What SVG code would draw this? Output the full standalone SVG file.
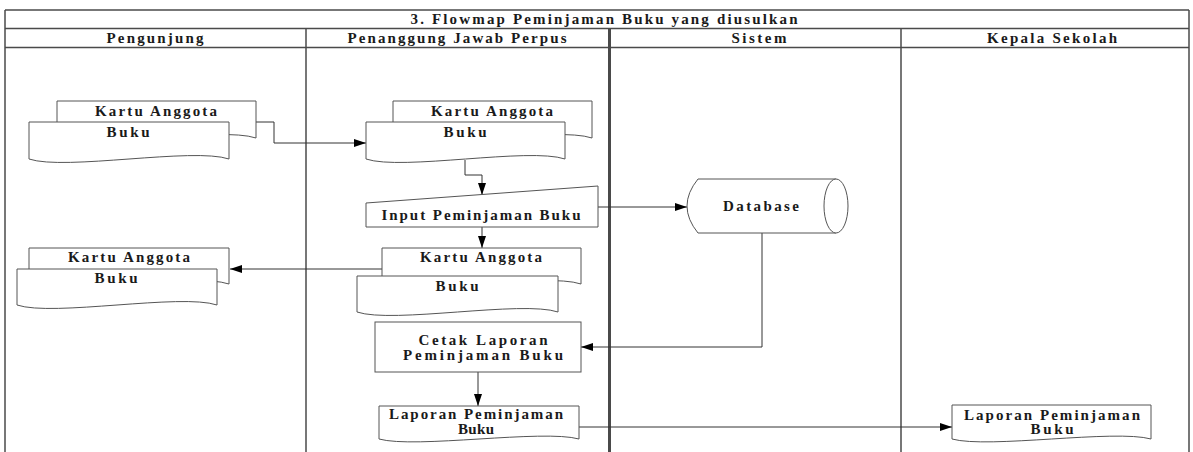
<svg xmlns="http://www.w3.org/2000/svg" width="1193" height="452" viewBox="0 0 1193 452">
<defs>
<style>
.frame{fill:none;stroke:#4a4a4a;stroke-width:1.5}
.thick{fill:none;stroke:#4a4a4a;stroke-width:3}
.shape{fill:#fff;stroke:#555;stroke-width:1}
.conn{fill:none;stroke:#333;stroke-width:1}
text{font-family:"Liberation Serif","Times New Roman",serif;font-size:15px;font-weight:bold;fill:#1a1a1a;text-anchor:middle}
.hdr{font-size:15px}
</style>
<marker id="arr" viewBox="0 0 12 8" refX="12" refY="4" markerWidth="12" markerHeight="8" markerUnits="userSpaceOnUse" orient="auto">
<path d="M0,0 L12,4 L0,8 Z" fill="#000"/>
</marker>
</defs>
<rect width="1193" height="452" fill="#fff"/>
<g id="frame">
<line class="frame" x1="5" y1="10" x2="1189" y2="10"/>
<line class="frame" x1="5" y1="28.5" x2="1189" y2="28.5"/>
<line class="frame" x1="5" y1="47.5" x2="1189" y2="47.5"/>
<line class="frame" x1="5" y1="10" x2="5" y2="452"/>
<line class="frame" x1="1189" y1="10" x2="1189" y2="452"/>
<line class="frame" x1="306" y1="28.5" x2="306" y2="452"/>
<line class="thick" x1="609.5" y1="28.5" x2="609.5" y2="452"/>
<line class="frame" x1="901" y1="28.5" x2="901" y2="452"/>
<text x="604" y="24" textLength="387" lengthAdjust="spacing" class="hdr">3. Flowmap Peminjaman Buku yang diusulkan</text>
<text x="155" y="43" textLength="97" lengthAdjust="spacing" class="hdr">Pengunjung</text>
<text x="457" y="43" textLength="219" lengthAdjust="spacing" class="hdr">Penanggung Jawab Perpus</text>
<text x="759" y="43" textLength="55" lengthAdjust="spacing" class="hdr">Sistem</text>
<text x="1052" y="43" textLength="130" lengthAdjust="spacing" class="hdr">Kepala Sekolah</text>
</g>
<g id="connectors">
<polyline class="conn" points="256,122 274,122 274,143 366,143" marker-end="url(#arr)"/>
<polyline class="conn" points="465,160 465,175 482,175 482,195" marker-end="url(#arr)"/>
<line class="conn" x1="482" y1="227" x2="482" y2="248" marker-end="url(#arr)"/>
<line class="conn" x1="382" y1="269" x2="230" y2="269" marker-end="url(#arr)"/>
<line class="conn" x1="598" y1="207" x2="687" y2="207" marker-end="url(#arr)"/>
<polyline class="conn" points="762,233 762,347 581,347" marker-end="url(#arr)"/>
<line class="conn" x1="478" y1="372" x2="478" y2="406" marker-end="url(#arr)"/>
<line class="conn" x1="579" y1="427" x2="952" y2="427" marker-end="url(#arr)"/>
</g>
<g id="doc-pengunjung-1">
<path class="shape" d="M57,101 H256 V138 C220,126 93,150 57,138 Z"/>
<path class="shape" d="M29,122 H229 V159 C193,147 65,171 29,159 Z"/>
<text x="156" y="116" textLength="122" lengthAdjust="spacing">Kartu Anggota</text>
<text x="128" y="137" textLength="43" lengthAdjust="spacing">Buku</text>
</g>
<g id="doc-ppj-1">
<path class="shape" d="M393,101 H592 V138 C556,126 429,150 393,138 Z"/>
<path class="shape" d="M366,122 H565 V159 C529,147 402,171 366,159 Z"/>
<text x="492" y="116" textLength="122" lengthAdjust="spacing">Kartu Anggota</text>
<text x="465" y="137" textLength="43" lengthAdjust="spacing">Buku</text>
</g>
<g id="input-peminjaman">
<polygon class="shape" points="366,203 598,186 598,227 366,227"/>
<text x="481" y="220" textLength="199" lengthAdjust="spacing">Input Peminjaman Buku</text>
</g>
<g id="database">
<path class="shape" d="M698,179 H836 A12,27 0 0 1 836,233 H698 Q676,206 698,179 Z"/>
<path class="shape" d="M836,179 A12,27 0 0 0 836,233"/>
<text x="761" y="211" textLength="76" lengthAdjust="spacing">Database</text>
</g>
<g id="doc-ppj-2">
<path class="shape" d="M382,248 H581 V284 C545,272 418,296 382,284 Z"/>
<path class="shape" d="M357,276 H558 V312 C522,300 393,324 357,312 Z"/>
<text x="481" y="262" textLength="122" lengthAdjust="spacing">Kartu Anggota</text>
<text x="457" y="291" textLength="43" lengthAdjust="spacing">Buku</text>
</g>
<g id="doc-pengunjung-2">
<path class="shape" d="M29,248 H229 V284 C193,272 65,296 29,284 Z"/>
<path class="shape" d="M17,269 H217 V305 C181,293 53,317 17,305 Z"/>
<text x="129" y="262" textLength="122" lengthAdjust="spacing">Kartu Anggota</text>
<text x="116" y="283" textLength="43" lengthAdjust="spacing">Buku</text>
</g>
<g id="cetak-laporan">
<rect class="shape" x="375" y="322" width="206" height="50"/>
<text x="483" y="345" textLength="129" lengthAdjust="spacing">Cetak Laporan</text>
<text x="483" y="360" textLength="160" lengthAdjust="spacing">Peminjaman Buku</text>
</g>
<g id="laporan-ppj">
<path class="shape" d="M379,406 H579 V439 C543,429 415,449 379,439 Z"/>
<text x="476" y="419" textLength="174" lengthAdjust="spacing">Laporan Peminjaman</text>
<text x="476" y="434" textLength="36" lengthAdjust="spacing">Buku</text>
</g>
<g id="laporan-kepsek">
<path class="shape" d="M952,405 H1151 V439 C1115,429 988,449 952,439 Z"/>
<text x="1052" y="420" textLength="176" lengthAdjust="spacing">Laporan Peminjaman</text>
<text x="1052" y="434" textLength="43" lengthAdjust="spacing">Buku</text>
</g>
</svg>
